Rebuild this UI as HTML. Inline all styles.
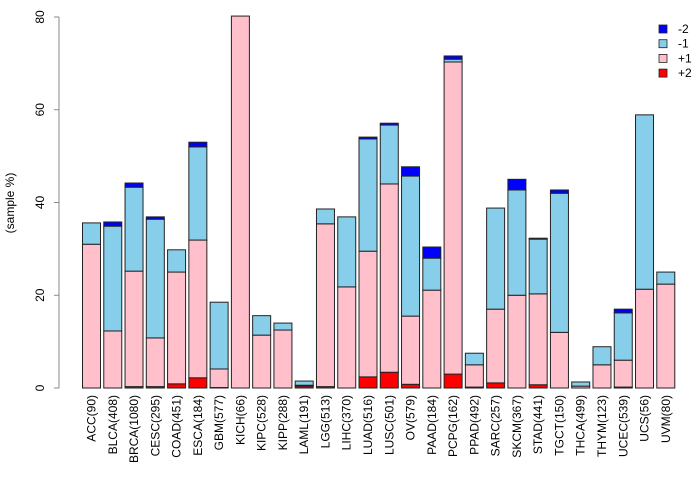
<!DOCTYPE html>
<html><head><meta charset="utf-8"><style>
body{margin:0;background:#fff;}
svg{display:block;font-family:"Liberation Sans",sans-serif;}
</style></head><body>
<svg id="chart" width="700" height="480">
<g id="yaxis"></g>
<text transform="translate(14,203) rotate(-90)" text-anchor="middle" font-size="12" fill="#000">(sample %)</text>
<g id="bars"></g>
<g id="xlabels"></g>
<g id="legend"></g>
</svg>
<script>
const categories=["ACC(90)","BLCA(408)","BRCA(1080)","CESC(295)","COAD(451)","ESCA(184)","GBM(577)","KICH(66)","KIPC(528)","KIPP(288)","LAML(191)","LGG(513)","LIHC(370)","LUAD(516)","LUSC(501)","OV(579)","PAAD(184)","PCPG(162)","PPAD(492)","SARC(257)","SKCM(367)","STAD(441)","TGCT(150)","THCA(499)","THYM(123)","UCEC(539)","UCS(56)","UVM(80)"];
const plus2=[0,0,0.3,0.3,0.9,2.2,0.1,0,0,0,0.4,0.3,0,2.4,3.4,0.8,0,3.0,0.2,1.1,0,0.7,0,0,0,0.2,0,0];
const plus1=[31.0,12.3,24.9,10.5,24.1,29.7,4.0,80.2,11.4,12.5,0.2,35.1,21.8,27.1,40.6,14.7,21.1,67.3,4.8,15.9,20.0,19.6,12.0,0.4,5.0,5.8,21.3,22.4];
const minus1=[4.6,22.6,18.1,25.6,4.8,20.1,14.4,0,4.2,1.5,0.9,3.2,15.1,24.2,12.7,30.2,6.9,0.6,2.5,21.8,22.7,11.8,30.0,0.9,3.9,10.2,37.6,2.6];
const minus2=[0,0.9,0.9,0.5,0,1.0,0,0,0,0,0,0,0,0.4,0.4,2.0,2.4,0.7,0,0,2.3,0.2,0.7,0,0,0.8,0,0];
const yTicks=[0,20,40,60,80];
const seriesNames=["-2","-1","+1","+2"];
const colors={"+2":"#FF0000","+1":"#FFC0CB","-1":"#87CEEB","-2":"#0000FF"};
const NS="http://www.w3.org/2000/svg";
const y=v=>388-v*4.6375;
const x=i=>82.5+i*21.27;
const bw=18;
function mk(tag,attrs,parent){const e=document.createElementNS(NS,tag);for(const k in attrs)e.setAttribute(k,attrs[k]);parent.appendChild(e);return e;}
const ya=document.getElementById('yaxis');
const al=mk('line',{x1:59,x2:59,y1:y(0),y2:y(80),stroke:'#888','stroke-width':1},ya);


yTicks.forEach(t=>{
 const l=mk('line',{x1:54,x2:59,y1:y(t),y2:y(t),stroke:'#888'},ya);
 
 
 const tx=mk('text',{transform:`translate(44,${y(t)}) rotate(-90)`,'text-anchor':'middle','font-size':12,fill:'#000'},ya);
 tx.textContent=t;
 
 
});
const bars=document.getElementById('bars');
const xl=document.getElementById('xlabels');
categories.forEach((c,i)=>{
 const segs=[["+2",plus2[i]],["+1",plus1[i]],["-1",minus1[i]],["-2",minus2[i]]];
 let base=0;
 segs.forEach(([n,v])=>{
  if(v<=0)return;
  const r=mk('rect',{x:x(i),y:y(base+v),width:bw,height:y(base)-y(base+v),fill:colors[n],stroke:'#222','stroke-width':1},bars);
  
  
  base+=v;
 });
 const t=mk('text',{transform:`translate(${x(i)+bw/2+4},395) rotate(-90)`,'text-anchor':'end','font-size':12,fill:'#000'},xl);
 t.textContent=c;
 
 
});
const lg=document.getElementById('legend');
seriesNames.forEach((n,k)=>{
 const cy=29+k*14.7;
 const r=mk('rect',{x:659,y:cy-4,width:8,height:8,fill:colors[n],stroke:'#222','stroke-width':0.8},lg);
 
 
 const t=mk('text',{x:678,y:cy+4,'font-size':12,fill:'#000'},lg);
 t.textContent=n;
 
 
});
</script>
</body></html>
